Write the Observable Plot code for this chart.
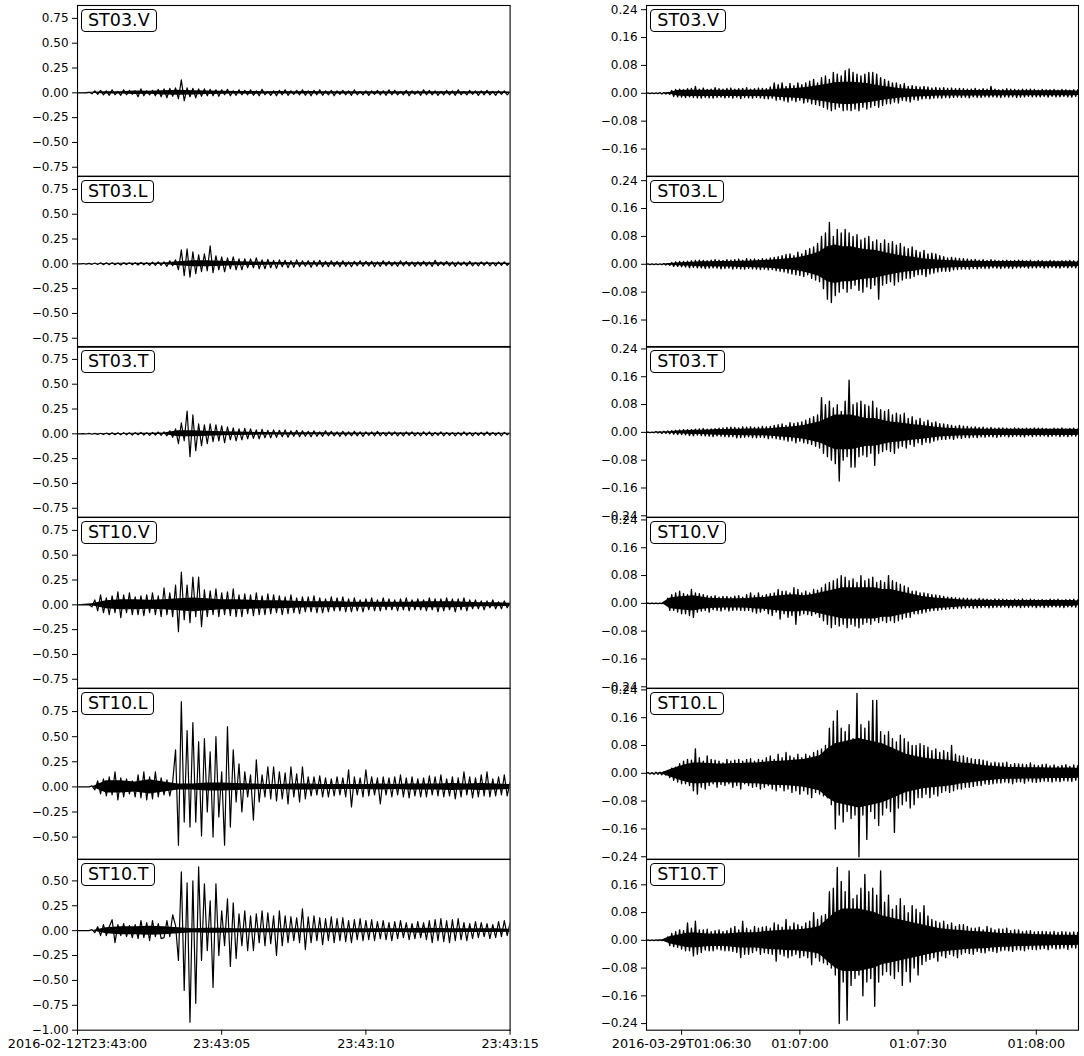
<!DOCTYPE html>
<html><head><meta charset="utf-8">
<script src="https://cdn.jsdelivr.net/npm/d3@7"></script>
<script src="https://cdn.jsdelivr.net/npm/@observablehq/plot@0.6"></script>
<style>
body{margin:0;background:#fff;font-family:"DejaVu Sans",sans-serif}
#fig{position:relative;width:1084px;height:1056px;overflow:hidden;background:#fff}
.tag{position:absolute;box-sizing:border-box;border:1px solid #000;border-radius:4px;background:#fff;font:17.5px "DejaVu Sans";height:23px;line-height:21px;padding:0 6px;white-space:nowrap;color:#000}
svg [aria-label="x-axis tick label"]{font-size:12.8px}
</style></head><body><div id="fig"></div><script>
// ---------- categories ----------
const stations = ["ST03.V","ST03.L","ST03.T","ST10.V","ST10.L","ST10.T"];
// ---------- sampling (start time, step in seconds) ----------
const leftStart = "2016-02-12T23:43:00Z", leftDt = 0.1, leftCoreDt = 0.5;
const rightStart = "2016-03-29T01:06:21Z", rightDt = 0.5, rightCoreDt = 2;
// ---------- axes ----------
const leftXDomain = ["2016-02-12T23:43:00Z","2016-02-12T23:43:15Z"];
const rightXDomain = ["2016-03-29T01:06:21.1Z","2016-03-29T01:08:10.7Z"];
const leftXTicks = ["2016-02-12T23:43:00Z","2016-02-12T23:43:05Z","2016-02-12T23:43:10Z","2016-02-12T23:43:15Z"];
const leftXTickLabels = ["2016-02-12T23:43:00","23:43:05","23:43:10","23:43:15"];
const rightXTicks = ["2016-03-29T01:06:30Z","2016-03-29T01:07:00Z","2016-03-29T01:07:30Z","2016-03-29T01:08:00Z"];
const rightXTickLabels = ["2016-03-29T01:06:30","01:07:00","01:07:30","01:08:00"];
const leftYTicks = [-1,-0.75,-0.5,-0.25,0,0.25,0.5,0.75];
const rightYTicks = [-0.24,-0.16,-0.08,0,0.08,0.16,0.24];
const leftYDomains = [[-0.84,0.88],[-0.84,0.88],[-0.84,0.88],[-0.84,0.88],[-0.72,0.98],[-1.0,0.715]];
const rightYDomains = [[-0.238,0.252],[-0.238,0.252],[-0.244,0.247],[-0.244,0.247],[-0.247,0.244],[-0.259,0.233]];

// ---------- left column peak traces (23:43:00 + i*0.1 s) ----------
const leftST03V = [
0,0,0,0,.005,-.01,.02,-.015,.025,-.02,
.02,-.025,.03,-.02,.015,-.025,.03,-.02,.025,-.015,
.02,-.04,.04,-.03,.02,-.02,.025,-.03,.035,-.04,
.04,-.05,.045,-.035,.05,-.06,.13,-.08,.05,-.04,
.045,-.05,.04,-.035,.04,-.03,.035,-.03,.03,-.035,
.03,-.02,.035,-.03,.02,-.025,.03,-.02,.025,-.02,
.03,-.025,.02,-.03,.035,-.02,.015,-.025,.02,-.03,
.025,-.02,.03,-.025,.02,-.015,.025,-.02,.03,-.025,
.02,-.03,.025,-.02,.03,-.025,.02,-.02,.025,-.03,
.02,-.015,.025,-.02,.02,-.025,.03,-.02,.015,-.02,
.02,-.025,.02,-.015,.025,-.02,.02,-.025,.03,-.02,
.025,-.02,.015,-.02,.025,-.03,.02,-.015,.02,-.025,
.03,-.02,.025,-.02,.02,-.025,.015,-.02,.025,-.02,
.02,-.025,.03,-.02,.015,-.02,.025,-.015,.02,-.025,
.02,-.02,.025,-.02,.015,-.025,.02,-.015,.02,-.02,
.01];
const leftST03L = [
0,0,.003,-.003,.005,-.005,.008,-.006,.01,-.008,
.01,-.01,.012,-.01,.008,-.012,.01,-.008,.012,-.01,
.01,-.012,.015,-.01,.012,-.015,.018,-.015,.02,-.015,
.02,-.025,.03,-.02,.04,-.06,.14,-.12,.15,-.135,
.12,-.1,.09,-.08,.1,-.07,.18,-.09,.08,-.06,
.07,-.08,.06,-.05,.07,-.06,.05,-.06,.05,-.04,
.05,-.04,.06,-.05,.04,-.05,.045,-.04,.035,-.045,
.04,-.03,.035,-.04,.03,-.035,.04,-.03,.03,-.025,
.03,-.035,.03,-.025,.035,-.03,.025,-.03,.03,-.025,
.025,-.03,.03,-.025,.02,-.03,.025,-.02,.03,-.025,
.025,-.02,.025,-.03,.02,-.025,.03,-.02,.025,-.02,
.02,-.025,.03,-.02,.025,-.02,.02,-.025,.02,-.02,
.025,-.02,.02,-.025,.035,-.02,.02,-.015,.025,-.02,
.02,-.025,.02,-.015,.02,-.02,.025,-.02,.015,-.02,
.02,-.015,.02,-.02,.015,-.02,.02,-.015,.02,-.015,
.01];
const leftST03T = [
0,0,.002,-.002,.004,-.004,.005,-.005,.006,-.006,
.008,-.008,.01,-.008,.01,-.01,.012,-.01,.01,-.012,
.012,-.01,.015,-.012,.012,-.015,.015,-.012,.018,-.015,
.02,-.02,.03,-.035,.05,-.1,.11,-.07,.23,-.23,
.19,-.17,.1,-.12,.09,-.1,.1,-.08,.09,-.07,
.08,-.09,.07,-.06,.06,-.07,.05,-.06,.055,-.05,
.05,-.045,.04,-.05,.045,-.04,.035,-.04,.04,-.035,
.035,-.03,.04,-.035,.03,-.025,.035,-.03,.03,-.025,
.025,-.03,.03,-.025,.02,-.025,.03,-.02,.025,-.02,
.02,-.025,.025,-.02,.02,-.02,.025,-.02,.02,-.025,
.02,-.015,.02,-.02,.025,-.02,.015,-.02,.02,-.015,
.02,-.02,.015,-.02,.02,-.015,.02,-.02,.015,-.02,
.02,-.015,.02,-.02,.015,-.015,.02,-.02,.015,-.015,
.015,-.02,.015,-.015,.02,-.015,.015,-.02,.015,-.015,
.015,-.015,.02,-.015,.015,-.015,.015,-.02,.015,-.01,
.01];
const leftST10V = [
0,0,0,0,0,-.02,.05,-.06,.1,-.08,
.07,-.1,.09,-.08,.13,-.13,.1,-.08,.12,-.1,
.08,-.1,.09,-.11,.1,-.08,.12,-.1,.09,-.12,
.17,-.1,.12,-.12,.2,-.27,.33,-.15,.2,-.18,
.28,-.12,.28,-.22,.15,-.12,.14,-.1,.16,-.12,
.12,-.1,.13,-.11,.16,-.12,.1,-.12,.11,-.09,
.1,-.11,.12,-.1,.09,-.1,.11,-.09,.1,-.08,
.09,-.1,.08,-.09,.1,-.08,.07,-.09,.08,-.07,
.08,-.07,.09,-.08,.07,-.08,.06,-.07,.08,-.06,
.07,-.06,.08,-.07,.06,-.07,.07,-.06,.05,-.07,
.06,-.05,.07,-.06,.05,-.06,.07,-.05,.06,-.05,
.05,-.06,.06,-.05,.07,-.06,.05,-.05,.06,-.05,
.05,-.06,.07,-.05,.06,-.07,.06,-.06,.07,-.05,
.06,-.07,.06,-.05,.07,-.06,.05,-.04,.05,-.04,
.04,-.05,.04,-.03,.05,-.04,.03,-.04,.04,-.03,
.02];
const leftST10L = [
0,0,0,0,0,.01,-.03,.06,-.07,.08,
-.09,.1,-.08,.15,-.13,.09,-.1,.08,-.07,.06,
-.1,.12,-.11,.15,-.13,.1,-.12,.15,-.1,.09,
-.08,.07,-.09,.05,.37,-.58,.85,-.35,.56,-.4,
.64,-.35,.45,-.49,.48,-.25,.35,-.5,.5,-.3,
.15,-.58,.6,-.4,.37,-.15,.23,-.25,.15,-.1,
.12,-.33,.27,-.15,.12,-.1,.2,-.12,.2,-.14,
.15,-.12,.14,-.17,.2,-.1,.13,-.15,.2,-.12,
.1,-.09,.1,-.08,.11,-.1,.09,-.1,.08,-.09,
.1,-.08,.09,-.1,.17,-.2,.1,-.08,.09,-.1,
.17,-.09,.1,-.08,.09,-.17,.1,-.08,.09,-.1,
.1,-.08,.12,-.1,.09,-.11,.1,-.09,.08,-.1,
.09,-.1,.11,-.08,.1,-.09,.12,-.1,.08,-.09,
.1,-.12,.09,-.1,.15,-.08,.1,-.11,.09,-.1,
.12,-.09,.15,-.1,.08,-.09,.1,-.08,.12,-.09,
.05];
const leftST10T = [
0,0,0,0,0,.01,-.02,.04,-.05,.06,
-.05,.04,.11,-.12,.06,-.05,.07,-.06,.05,-.07,
.06,-.08,.1,-.07,.08,-.1,.1,-.06,.07,-.08,
-.07,.1,-.06,.16,.05,-.3,.59,-.6,.48,-.92,
.5,-.73,.64,-.3,.47,-.2,.3,-.57,.47,-.25,
.2,-.15,.32,-.36,.28,-.28,.17,-.15,.2,-.2,
.15,-.2,.17,-.12,.2,-.15,.18,-.13,.15,-.25,
.2,-.15,.15,-.12,.14,-.1,.13,-.12,.22,-.19,
.14,-.12,.15,-.1,.13,-.14,.12,-.1,.14,-.12,
.12,-.1,.13,-.11,.1,-.12,.11,-.09,.12,-.1,
.1,-.09,.11,-.1,.09,-.08,.1,-.09,.08,-.1,
.09,-.08,.1,-.07,.08,-.09,.07,-.08,.09,-.07,
.08,-.09,.1,-.12,.11,-.1,.12,-.11,.1,-.12,
.11,-.1,.12,-.09,.08,-.1,.07,-.08,.09,-.07,
.08,-.06,.07,-.08,.06,-.07,.09,-.06,.1,-.05,
.08];
// ---------- left column dense-core half widths (23:43:00 + i*0.5 s) ----------
const leftCoreST03V = [0,.005,.012,.012,.018,.015,.022,.025,.022,.018,.015,.013,.014,.012,.013,.012,.013,.012,.011,.012,.012,.011,.012,.011,.012,.011,.012,.011,.01,.01,.008];
const leftCoreST03L = [0,.002,.004,.005,.006,.007,.008,.02,.03,.03,.025,.02,.018,.015,.013,.012,.012,.011,.011,.01,.01,.01,.01,.01,.01,.01,.009,.009,.008,.008,.006];
const leftCoreST03T = [0,.002,.003,.004,.005,.006,.008,.03,.03,.025,.02,.018,.015,.013,.012,.011,.01,.01,.009,.009,.008,.008,.008,.008,.007,.007,.007,.007,.007,.006,.005];
const leftCoreST10V = [0,.01,.04,.05,.05,.045,.05,.06,.07,.06,.05,.05,.045,.04,.04,.035,.03,.03,.03,.025,.025,.025,.025,.025,.03,.03,.03,.025,.02,.02,.015];
const leftCoreST10L = [0,0,.06,.06,.05,.07,.05,.03,.03,.04,.04,.035,.03,.025,.025,.03,.03,.025,.025,.025,.025,.03,.025,.03,.03,.03,.035,.03,.035,.03,.025];
const leftCoreST10T = [0,0,.03,.04,.04,.045,.04,.03,.02,.025,.025,.02,.02,.02,.02,.02,.02,.02,.02,.02,.02,.018,.018,.02,.025,.022,.02,.018,.018,.018,.015];

// ---------- right column peak traces (01:06:21 + i*0.5 s) ----------
const rightST03V = [
0,.001,-.001,.001,-.001,.001,-.001,.002,-.002,.002,-.002,.002,-.003,.008,-.009,.011,-.01,.012,-.011,.01,
-.012,.013,-.01,.014,-.012,.02,-.013,.012,-.014,.015,-.012,.011,-.013,.012,-.014,.016,-.012,.013,-.011,.012,
-.013,.014,-.012,.015,-.014,.012,-.011,.013,-.015,.014,-.012,.016,-.013,.012,-.014,.013,-.012,.015,-.013,.014,
-.015,.013,-.016,.018,-.014,.03,-.02,.025,-.018,.03,-.022,.02,-.025,.028,-.02,.022,-.024,.03,-.02,.025,
-.028,.03,-.025,.035,-.03,.04,-.032,.03,-.035,.045,-.04,.05,-.045,.04,-.05,.06,-.045,.055,-.04,.05,
-.05,.065,-.048,.07,-.05,.06,-.045,.055,-.05,.05,-.04,.055,-.045,.06,-.04,.06,-.035,.055,-.04,.045,
-.035,.04,-.03,.035,-.03,.03,-.025,.03,-.028,.025,-.02,.028,-.022,.02,-.025,.022,-.018,.02,-.02,.018,
-.016,.02,-.015,.018,-.016,.015,-.014,.017,-.013,.015,-.014,.016,-.012,.014,-.013,.015,-.012,.013,-.011,.014,
-.012,.013,-.011,.012,-.013,.012,-.01,.014,-.012,.011,-.012,.013,-.01,.012,-.011,.02,-.01,.012,-.011,.01,
-.012,.011,-.01,.013,-.011,.012,-.01,.011,-.012,.01,-.011,.012,-.01,.011,-.009,.012,-.01,.011,-.01,.009,
-.01,.011,-.009,.01,-.011,.01,-.009,.011,-.01,.009,-.01,.011,-.009,.01,-.01,.009,-.011,.01,-.009,.01,
-.008];
const rightST03L = [
0,.001,-.001,.001,-.001,.001,-.001,.001,-.001,.002,-.002,.002,-.003,.005,-.006,.007,-.006,.008,-.007,.008,
-.008,.009,-.01,.01,-.009,.011,-.01,.012,-.01,.011,-.012,.01,-.011,.012,-.01,.013,-.011,.012,-.013,.011,
-.012,.013,-.011,.012,-.014,.013,-.012,.015,-.013,.012,-.014,.016,-.012,.014,-.013,.015,-.014,.013,-.015,.016,
-.014,.015,-.016,.018,-.015,.02,-.018,.022,-.02,.025,-.022,.028,-.025,.03,-.028,.025,-.03,.035,-.032,.03,
-.035,.04,-.03,.045,-.04,.05,-.045,.06,-.05,.08,-.07,.09,-.1,.12,-.11,.08,-.09,.1,-.08,.09,
-.07,.1,-.08,.09,-.07,.08,-.06,.085,-.075,.07,-.08,.075,-.065,.08,-.07,.065,-.06,.07,-.1,.06,
-.06,.07,-.055,.06,-.05,.065,-.06,.055,-.05,.06,-.045,.05,-.04,.045,-.04,.05,-.035,.04,-.03,.035,
-.03,.04,-.035,.03,-.028,.032,-.025,.03,-.022,.025,-.02,.022,-.02,.018,-.02,.02,-.016,.018,-.015,.017,
-.014,.016,-.013,.015,-.014,.013,-.012,.014,-.013,.012,-.011,.013,-.012,.011,-.012,.013,-.01,.012,-.011,.01,
-.012,.011,-.01,.012,-.011,.01,-.012,.011,-.01,.012,-.01,.011,-.009,.01,-.011,.012,-.01,.009,-.01,.011,
-.009,.01,-.011,.009,-.01,.011,-.009,.01,-.01,.009,-.011,.01,-.009,.01,-.01,.011,-.009,.01,-.01,.009,
-.008];
const rightST03T = [
0,.001,-.001,.001,-.001,.002,-.002,.002,-.003,.003,-.003,.004,-.004,.005,-.005,.006,-.006,.007,-.006,.008,
-.007,.008,-.009,.008,-.01,.009,-.008,.01,-.009,.011,-.01,.009,-.011,.01,-.012,.011,-.01,.012,-.011,.013,
-.012,.014,-.013,.015,-.012,.014,-.016,.013,-.015,.016,-.014,.015,-.013,.016,-.015,.014,-.016,.015,-.014,.017,
-.015,.016,-.018,.017,-.016,.02,-.018,.022,-.02,.024,-.022,.02,-.025,.028,-.024,.026,-.03,.028,-.025,.03,
-.03,.035,-.032,.04,-.035,.045,-.04,.05,-.045,.1,-.06,.08,-.07,.09,-.08,.07,-.09,.08,-.14,.06,
-.08,.09,-.07,.15,-.1,.08,-.1,.085,-.07,.09,-.065,.08,-.07,.075,-.06,.09,-.095,.07,-.06,.065,
-.055,.06,-.05,.065,-.055,.05,-.06,.055,-.045,.05,-.04,.055,-.045,.04,-.035,.045,-.04,.035,-.03,.04,
-.035,.03,-.028,.035,-.03,.028,-.025,.03,-.022,.025,-.02,.024,-.02,.022,-.018,.02,-.02,.018,-.016,.02,
-.017,.018,-.015,.017,-.016,.015,-.014,.016,-.015,.014,-.013,.015,-.014,.013,-.012,.014,-.013,.012,-.014,.013,
-.012,.013,-.011,.012,-.013,.011,-.012,.013,-.011,.012,-.012,.011,-.013,.012,-.01,.011,-.012,.013,-.011,.012,
-.011,.012,-.01,.011,-.012,.01,-.011,.012,-.01,.011,-.012,.013,-.011,.01,-.012,.011,-.01,.012,-.011,.01,
-.01];
const rightST10V = [
0,.001,-.001,.001,-.001,.001,-.001,.001,-.001,.001,-.001,.015,-.02,.025,-.02,.03,-.025,.035,-.03,.028,
-.03,.025,-.035,.04,-.04,.03,-.025,.028,-.022,.025,-.02,.022,-.025,.02,-.018,.022,-.02,.018,-.022,.02,
-.018,.02,-.022,.018,-.02,.021,-.019,.022,-.02,.018,-.021,.025,-.02,.03,-.024,.022,-.028,.03,-.025,.022,
-.02,.025,-.03,.028,-.035,.03,-.025,.04,-.045,.035,-.03,.035,-.04,.03,-.035,.045,-.06,.04,-.035,.03,
-.03,.035,-.032,.03,-.035,.04,-.03,.038,-.04,.045,-.05,.055,-.06,.06,-.07,.065,-.06,.07,-.065,.08,
-.06,.075,-.07,.065,-.06,.07,-.065,.06,-.07,.08,-.06,.065,-.055,.07,-.06,.075,-.05,.06,-.055,.065,
-.05,.06,-.055,.08,-.05,.065,-.055,.06,-.05,.055,-.045,.05,-.04,.045,-.04,.035,-.03,.035,-.03,.03,
-.028,.03,-.025,.028,-.022,.025,-.02,.024,-.02,.022,-.018,.02,-.017,.018,-.016,.017,-.015,.016,-.014,.015,
-.014,.015,-.013,.014,-.012,.013,-.014,.012,-.013,.014,-.012,.013,-.011,.012,-.013,.011,-.012,.013,-.011,.012,
-.011,.012,-.01,.011,-.012,.01,-.011,.012,-.01,.011,-.012,.013,-.011,.01,-.011,.012,-.01,.011,-.012,.01,
-.01,.011,-.012,.01,-.011,.012,-.01,.011,-.01,.012,-.011,.01,-.012,.011,-.01,.011,-.01,.012,-.011,.01,
-.01];
const rightST10L = [
0,.002,-.002,.002,-.003,.003,-.003,.003,-.004,.004,-.005,.008,-.012,.015,-.02,.018,-.025,.028,-.03,.035,
-.03,.04,-.035,.038,-.05,.07,-.06,.045,-.04,.035,-.045,.05,-.035,.04,-.03,.038,-.04,.035,-.032,.03,
-.035,.04,-.03,.035,-.04,.038,-.035,.04,-.045,.035,-.03,.04,-.035,.042,-.04,.035,-.038,.04,-.045,.038,
-.04,.045,-.035,.05,-.045,.04,-.05,.055,-.04,.045,-.05,.06,-.045,.05,-.055,.045,-.05,.055,-.06,.045,
-.05,.055,-.06,.05,-.07,.06,-.055,.065,-.06,.07,-.065,.08,-.07,.13,-.09,.15,-.16,.18,-.12,.13,
-.14,.12,-.11,.14,-.13,.1,-.12,.23,-.24,.14,-.12,.13,-.19,.15,-.11,.21,-.13,.21,-.15,.12,
-.12,.11,-.1,.12,-.11,.1,-.17,.09,-.1,.11,-.09,.1,-.08,.09,-.1,.08,-.09,.08,-.07,.085,
-.07,.08,-.06,.075,-.07,.065,-.06,.07,-.065,.06,-.055,.065,-.05,.06,-.055,.08,-.05,.055,-.045,.05,
-.045,.05,-.04,.045,-.04,.042,-.038,.04,-.035,.04,-.035,.038,-.03,.035,-.032,.03,-.03,.032,-.028,.03,
-.028,.03,-.025,.032,-.027,.025,-.03,.028,-.025,.027,-.024,.026,-.028,.025,-.022,.03,-.025,.024,-.026,.022,
-.024,.025,-.022,.026,-.023,.021,-.025,.024,-.022,.02,-.024,.023,-.021,.025,-.022,.02,-.023,.024,-.02,.022,
-.02];
const rightST10T = [
0,.001,-.001,.001,-.001,.001,-.001,.001,-.001,.002,-.002,.01,-.015,.02,-.018,.025,-.02,.03,-.025,.028,
-.03,.05,-.03,.035,-.045,.055,-.04,.03,-.035,.03,-.028,.032,-.03,.025,-.03,.028,-.025,.03,-.028,.025,
-.03,.028,-.03,.035,-.032,.04,-.035,.03,-.05,.055,-.04,.035,-.04,.03,-.035,.04,-.03,.035,-.04,.038,
-.035,.04,-.038,.035,-.04,.05,-.06,.045,-.04,.038,-.045,.06,-.05,.04,-.045,.05,-.04,.045,-.05,.04,
-.045,.05,-.05,.055,-.07,.08,-.05,.06,-.06,.07,-.065,.075,-.07,.14,-.08,.15,-.1,.21,-.24,.17,
-.12,.14,-.23,.2,-.13,.12,-.11,.13,-.1,.15,-.16,.19,-.12,.14,-.11,.15,-.19,.13,-.12,.2,
-.1,.11,-.09,.13,-.1,.09,-.11,.1,-.09,.12,-.13,.1,-.09,.08,-.12,.1,-.08,.09,-.1,.08,
-.07,.1,-.06,.07,-.055,.06,-.05,.055,-.06,.05,-.045,.055,-.05,.045,-.04,.05,-.045,.04,-.05,.045,
-.04,.045,-.035,.04,-.038,.035,-.04,.035,-.032,.038,-.035,.03,-.036,.04,-.03,.035,-.032,.03,-.035,.033,
-.03,.032,-.028,.035,-.03,.028,-.032,.03,-.027,.03,-.028,.025,-.03,.027,-.025,.028,-.026,.024,-.027,.025,
-.025,.026,-.023,.025,-.027,.024,-.022,.026,-.025,.023,-.024,.025,-.022,.024,-.026,.023,-.021,.024,-.022,.023,
-.02];
// ---------- right column dense-core half widths (01:06:21 + i*2 s) ----------
const rightCoreST03V = [0,0,0,.002,.008,.009,.009,.009,.009,.009,.009,.009,.009,.009,.009,.009,.01,.012,.013,.014,.016,.019,.022,.026,.03,.032,.032,.03,.028,.024,.02,.017,.014,.012,.011,.01,.009,.008,.008,.008,.008,.008,.008,.008,.008,.007,.007,.007,.007,.007,.007,.007,.007,.007,.007,.006];
const rightCoreST03L = [0,0,0,.002,.004,.005,.006,.007,.007,.008,.008,.008,.009,.009,.01,.011,.012,.014,.016,.018,.022,.028,.035,.05,.055,.05,.05,.045,.042,.04,.035,.03,.026,.022,.02,.016,.014,.012,.011,.01,.009,.009,.009,.008,.008,.008,.008,.008,.008,.007,.007,.007,.007,.007,.007,.006];
const rightCoreST03T = [0,0,.001,.002,.004,.005,.006,.006,.007,.008,.008,.009,.009,.01,.01,.01,.011,.013,.015,.017,.02,.025,.03,.04,.05,.05,.05,.045,.04,.04,.035,.03,.028,.025,.022,.02,.017,.014,.012,.011,.01,.01,.01,.009,.009,.009,.009,.009,.009,.009,.009,.009,.009,.009,.009,.008];
const rightCoreST10V = [0,0,0,.015,.018,.02,.022,.018,.015,.014,.013,.013,.013,.014,.016,.017,.02,.022,.024,.025,.022,.025,.03,.035,.04,.045,.045,.045,.045,.045,.04,.04,.035,.03,.025,.02,.017,.015,.013,.012,.01,.009,.009,.009,.008,.008,.008,.008,.008,.008,.008,.008,.008,.008,.008,.007];
const rightCoreST10L = [0,0,.002,.01,.018,.025,.03,.03,.028,.027,.027,.028,.028,.03,.03,.032,.034,.035,.036,.038,.04,.045,.05,.07,.085,.09,.095,.1,.095,.09,.085,.075,.065,.055,.05,.045,.042,.04,.038,.035,.03,.028,.025,.022,.02,.018,.017,.017,.016,.016,.016,.015,.015,.015,.015,.014];
const rightCoreST10T = [0,0,.001,.01,.015,.02,.022,.02,.018,.018,.018,.02,.022,.022,.022,.025,.027,.028,.03,.03,.032,.035,.04,.06,.08,.09,.09,.09,.085,.08,.07,.065,.06,.055,.05,.045,.04,.035,.032,.03,.028,.026,.025,.024,.022,.02,.02,.018,.018,.017,.016,.016,.015,.015,.015,.014];

const leftTraces = [leftST03V, leftST03L, leftST03T, leftST10V, leftST10L, leftST10T];
const rightTraces = [rightST03V, rightST03L, rightST03T, rightST10V, rightST10L, rightST10T];
const leftCores = [leftCoreST03V, leftCoreST03L, leftCoreST03T, leftCoreST10V, leftCoreST10L, leftCoreST10T];
const rightCores = [rightCoreST03V, rightCoreST03L, rightCoreST03T, rightCoreST10V, rightCoreST10L, rightCoreST10T];

// ---------- layout ----------
const fig = document.getElementById("fig");
const colX = [76.7, 646], colW = [432.6, 432];
const rowTop = 5, rowH = 170.7;
const fmtY = d3.format(".2f");

function panel(col, row) {
  const L = col === 0;
  const start = Date.parse(L ? leftStart : rightStart);
  const dt = L ? leftDt : rightDt, cdt = L ? leftCoreDt : rightCoreDt;
  const data = (L ? leftTraces : rightTraces)[row].map((v, i) => ({time: new Date(start + i * dt * 1000), v}));
  const core = (L ? leftCores : rightCores)[row].map((c, i) => ({time: new Date(start + i * cdt * 1000), c}));
  const yDom = (L ? leftYDomains : rightYDomains)[row];
  const yT = (L ? leftYTicks : rightYTicks).filter(t => t >= yDom[0] - 1e-9 && t <= yDom[1] + 1e-9);
  const xDom = (L ? leftXDomain : rightXDomain).map(s => new Date(s));
  const xT = (L ? leftXTicks : rightXTicks).map(s => new Date(s));
  const xL = L ? leftXTickLabels : rightXTickLabels;
  const bottom = row === stations.length - 1;
  const svg = Plot.plot({
    width: colW[col], height: rowH, margin: 0,
    style: {fontFamily: "DejaVu Sans", fontSize: "12px", overflow: "visible", background: "transparent", color: "black"},
    x: bottom
      ? {type: "utc", domain: xDom, ticks: xT, tickFormat: d => xL[xT.findIndex(t => +t === +d)], tickSize: 5, tickPadding: 4, label: null}
      : {type: "utc", domain: xDom, axis: null},
    y: {domain: yDom, ticks: yT, tickFormat: fmtY, tickSize: 5, tickPadding: 4, label: null},
    marks: [
      Plot.areaY(core, {x: "time", y1: d => -d.c, y2: d => d.c, fill: "black", clip: true}),
      Plot.line(data, {x: "time", y: "v", stroke: "black", strokeWidth: L ? 1.2 : 1.35, clip: true}),
      Plot.frame({stroke: "black", strokeWidth: 1.1})
    ]
  });
  svg.style.position = "absolute";
  svg.style.left = colX[col] + "px";
  svg.style.top = (rowTop + row * rowH) + "px";
  svg.style.overflow = "visible";
  fig.appendChild(svg);
  const tag = document.createElement("div");
  tag.className = "tag";
  tag.textContent = stations[row];
  tag.style.left = (colX[col] + 4.3) + "px";
  tag.style.top = (rowTop + row * rowH + 4) + "px";
  fig.appendChild(tag);
}
for (let r = 0; r < stations.length; r++) { panel(0, r); panel(1, r); }
</script></body></html>
